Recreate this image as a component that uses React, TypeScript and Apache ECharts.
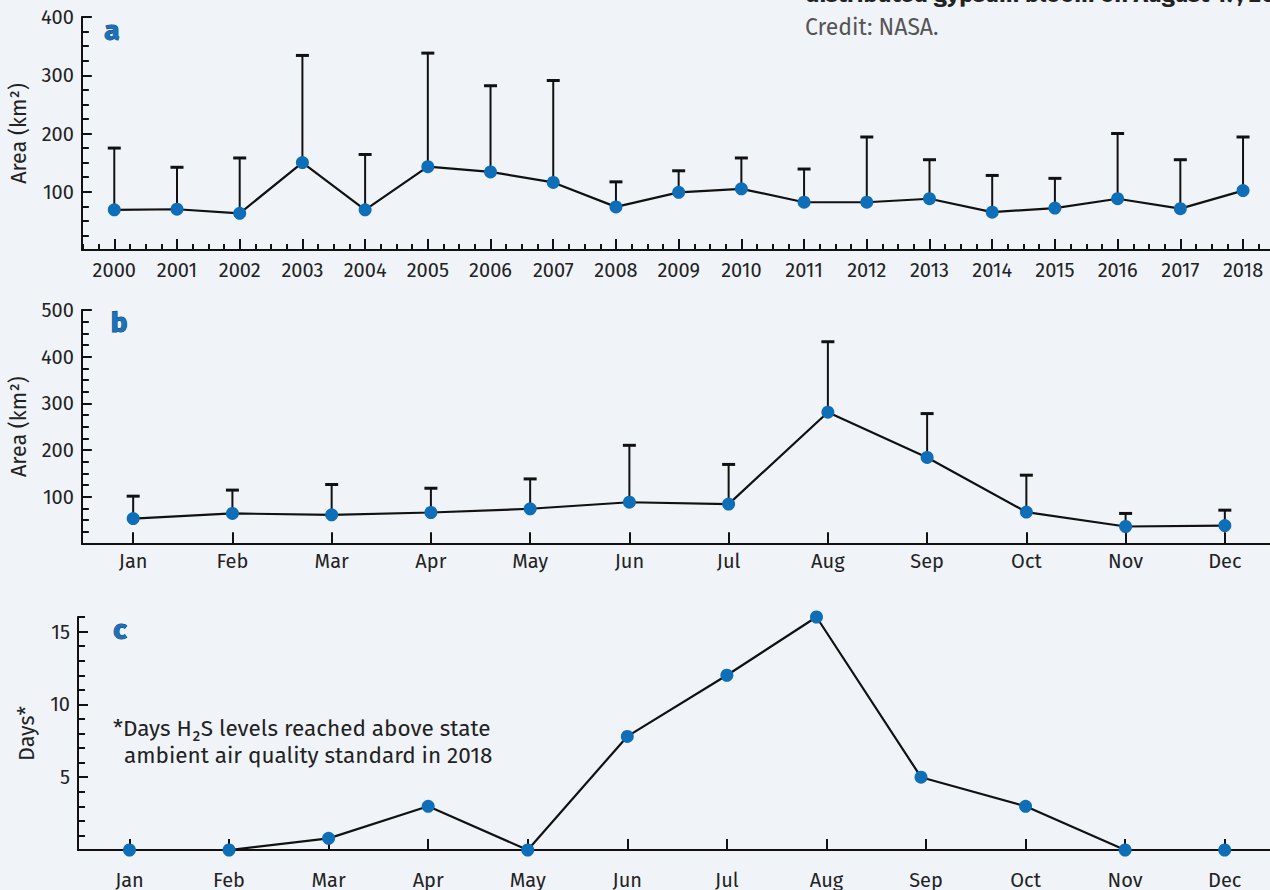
import React, { useEffect, useRef } from "react";
import * as echarts from "echarts";

// ---------- data ----------
const years = [2000, 2001, 2002, 2003, 2004, 2005, 2006, 2007, 2008, 2009, 2010, 2011, 2012, 2013, 2014, 2015, 2016, 2017, 2018];
const aMean = [69, 70, 63, 150, 69, 143, 134, 116, 74, 99, 105, 82, 82, 88, 65, 72, 88, 71, 102];
const aUpper = [175, 142, 158, 334, 164, 338, 282, 291, 117, 136, 158, 139, 194, 155, 128, 123, 200, 155, 194];

const months = ["Jan", "Feb", "Mar", "Apr", "May", "Jun", "Jul", "Aug", "Sep", "Oct", "Nov", "Dec"];
const monthPos = [1, 2, 3, 4, 5, 6, 7, 8, 9, 10, 11, 12];
const bMean = [53, 64, 61, 66, 74, 88, 84, 281, 184, 67, 36, 38];
const bUpper = [101, 114, 126, 118, 138, 210, 169, 432, 278, 146, 64, 71];

const cPos = [1, 2, 3, 4, 5, 6, 7, 7.9, 8.95, 10, 11, 12];
const cDays = [0, 0, 0.8, 3, 0, 7.8, 12, 16, 5, 3, 0, 0];

// tick labels
const aYTicks = [0, 100, 200, 300, 400];
const aYLabels = [100, 200, 300, 400];
const bYTicks = [0, 100, 200, 300, 400, 500];
const bYLabels = [100, 200, 300, 400, 500];
const cYTicks = [0, 5, 10, 15];
const cYLabels = [5, 10, 15];

// minor ticks
const aXMinor = [1999.5, 1999.75].concat(years.flatMap((y) => [y + 0.25, y + 0.5, y + 0.75]));
const aYMinor = Array.from({ length: 17 }, (_, i) => i * 25);
const bYMinor = Array.from({ length: 21 }, (_, i) => i * 25);
const cYMinor = Array.from({ length: 17 }, (_, i) => i);

const FONT = "'Fira Sans', 'Noto Sans', sans-serif";
const INK = "#111111";
const BLUE = "#0f6eb8";
const BG = "#f0f4f9";
const TICK_FS = 20;

const grids = [
  { left: 78, right: 0, top: 17, height: 233 },
  { left: 78, right: 0, top: 310, height: 233.3 },
  { left: 78, right: 0, top: 617, height: 233 },
];

function majorX(gridIndex: number, min: number, max: number, vals: number[], fmt: (v: number) => string, margin: number) {
  return {
    type: "value",
    gridIndex,
    position: "bottom",
    min,
    max,
    splitLine: { show: false },
    axisLine: { show: true, onZero: false, lineStyle: { color: INK, width: 2 } },
    axisTick: { show: true, inside: true, length: 11, customValues: vals, lineStyle: { color: INK, width: 2 } },
    axisLabel: {
      show: true,
      customValues: vals,
      formatter: (v: number) => fmt(v),
      margin,
      color: "#222",
      fontSize: TICK_FS,
      fontFamily: FONT,
    },
  };
}

function minorX(gridIndex: number, min: number, max: number, vals: number[]) {
  return {
    type: "value",
    gridIndex,
    position: "bottom",
    min,
    max,
    splitLine: { show: false },
    axisLine: { show: false },
    axisTick: { show: true, inside: true, length: 6, customValues: vals, lineStyle: { color: INK, width: 2 } },
    axisLabel: { show: false },
  };
}

function majorY(gridIndex: number, max: number, ticks: number[], labels: number[], name: string, nameGap: number) {
  return {
    type: "value",
    gridIndex,
    position: "left",
    min: 0,
    max,
    name,
    nameLocation: "middle",
    nameGap,
    nameTextStyle: { color: "#222", fontSize: 21.5, fontFamily: FONT },
    splitLine: { show: false },
    axisLine: { show: true, onZero: false, lineStyle: { color: INK, width: 2 } },
    axisTick: { show: true, inside: true, length: 10, customValues: ticks, lineStyle: { color: INK, width: 2 } },
    axisLabel: { show: true, customValues: labels, margin: 8, color: "#222", fontSize: TICK_FS, fontFamily: FONT },
  };
}

function minorY(gridIndex: number, max: number, vals: number[]) {
  return {
    type: "value",
    gridIndex,
    position: "left",
    min: 0,
    max,
    splitLine: { show: false },
    axisLine: { show: false },
    axisTick: { show: true, inside: true, length: 7, customValues: vals, lineStyle: { color: INK, width: 2 } },
    axisLabel: { show: false },
  };
}

const errorRender = (params: any, api: any) => {
  const x = api.value(0);
  const v = api.value(1);
  const u = api.value(2);
  const p0 = api.coord([x, v]);
  const p1 = api.coord([x, u]);
  return {
    type: "group",
    children: [
      { type: "line", shape: { x1: p0[0], y1: p0[1], x2: p1[0], y2: p1[1] }, style: { stroke: INK, lineWidth: 2 } },
      { type: "line", shape: { x1: p1[0] - 6.5, y1: p1[1], x2: p1[0] + 6.5, y2: p1[1] }, style: { stroke: INK, lineWidth: 3 } },
    ],
  };
};

const lineSeries = (xAxisIndex: number, yAxisIndex: number, data: number[][]) => ({
  type: "line",
  xAxisIndex,
  yAxisIndex,
  data,
  symbol: "circle",
  symbolSize: 13,
  itemStyle: { color: BLUE },
  lineStyle: { color: INK, width: 2.2 },
  z: 5,
});

const panelLetter = (text: string, x: number, y: number) => ({
  type: "text",
  x,
  y,
  z: 10,
  style: {
    text,
    fill: "#1a72bd",
    fontSize: 28,
    fontWeight: "bold",
    fontFamily: FONT,
    align: "center",
    verticalAlign: "middle",
    stroke: "#0b3a66",
    lineWidth: 1,
    textShadowColor: "#0b2f55",
    textShadowOffsetX: 1.5,
    textShadowOffsetY: 1,
    textShadowBlur: 0,
  },
});

export default function App() {
  const ref = useRef<HTMLDivElement>(null);
  useEffect(() => {
    if (!ref.current) return;
    const chart = echarts.init(ref.current, undefined, { renderer: "svg" });
    const aMin = 1999.483;
    const aMax = 2018.43;
    const mMin = 0.483;
    const mMax = 12.455;
    const option: any = {
      animation: false,
      backgroundColor: BG,
      grid: grids,
      xAxis: [
        majorX(0, aMin, aMax, years, (v) => String(Math.round(v)), 10),
        minorX(0, aMin, aMax, aXMinor),
        majorX(1, mMin, mMax, monthPos, (v) => months[Math.round(v) - 1] || "", 8),
        majorX(2, mMin, mMax, monthPos, (v) => months[Math.round(v) - 1] || "", 20),
      ],
      yAxis: [
        majorY(0, 400, aYTicks, aYLabels, "Area (km²)", 45),
        minorY(0, 400, aYMinor),
        majorY(1, 500, bYTicks, bYLabels, "Area (km²)", 45),
        minorY(1, 500, bYMinor),
        majorY(2, 16, cYTicks, cYLabels, "Days*", 40),
        minorY(2, 16, cYMinor),
      ],
      series: [
        {
          type: "custom",
          xAxisIndex: 0,
          yAxisIndex: 0,
          renderItem: errorRender,
          data: years.map((y, i) => [y, aMean[i], aUpper[i]]),
          z: 2,
        },
        lineSeries(0, 0, years.map((y, i) => [y, aMean[i]])),
        {
          type: "custom",
          xAxisIndex: 2,
          yAxisIndex: 2,
          renderItem: errorRender,
          data: monthPos.map((m, i) => [m, bMean[i], bUpper[i]]),
          z: 2,
        },
        lineSeries(2, 2, monthPos.map((m, i) => [m, bMean[i]])),
        lineSeries(3, 4, cPos.map((m, i) => [m, cDays[i]])),
      ],
      graphic: [
        {
          type: "text",
          x: 805,
          y: -6,
          style: {
            text: "distributed gypsum bloom on August 17, 2018.",
            fill: "#222",
            fontSize: 24,
            fontWeight: "bold",
            fontFamily: FONT,
            align: "left",
            verticalAlign: "middle",
          },
        },
        {
          type: "text",
          x: 805,
          y: 27,
          style: {
            text: "Credit: NASA.",
            fill: "#555",
            fontSize: 23,
            fontFamily: FONT,
            align: "left",
            verticalAlign: "middle",
          },
        },
        panelLetter("a", 112, 30),
        panelLetter("b", 119, 322),
        panelLetter("c", 120, 629),
        {
          type: "text",
          x: 113,
          y: 728,
          style: {
            text: "*Days H₂S levels reached above state",
            fill: "#222",
            fontSize: 22.5,
            fontFamily: FONT,
            align: "left",
            verticalAlign: "middle",
          },
        },
        {
          type: "text",
          x: 124,
          y: 755,
          style: {
            text: "ambient air quality standard in 2018",
            fill: "#222",
            fontSize: 22.5,
            fontFamily: FONT,
            align: "left",
            verticalAlign: "middle",
          },
        },
      ],
    };
    chart.setOption(option);
    return () => chart.dispose();
  }, []);
  return (
    <div
      ref={ref}
      style={{ position: "fixed", left: 0, top: 0, width: 1270, height: 890, background: BG }}
    />
  );
}
